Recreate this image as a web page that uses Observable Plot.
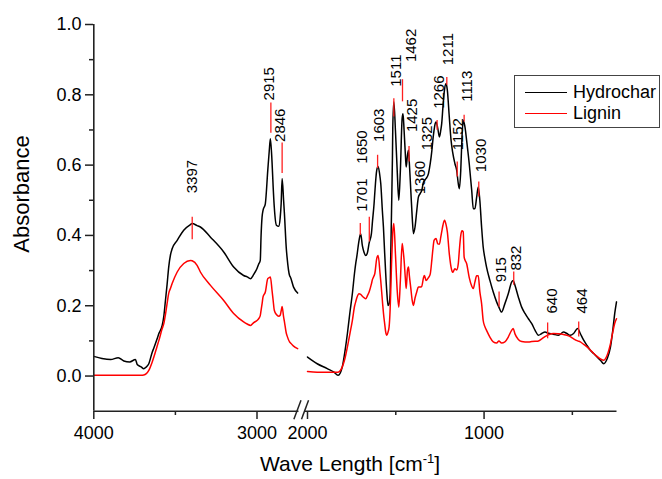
<!DOCTYPE html>
<html><head><meta charset="utf-8">
<script src="https://cdn.jsdelivr.net/npm/d3@7"></script>
<script src="https://cdn.jsdelivr.net/npm/@observablehq/plot@0.6"></script>
<style>
body{margin:0;background:#fff;}
#wrap{position:relative;width:662px;height:479px;overflow:hidden;font-family:"Liberation Sans",Arial,sans-serif;color:#000;}
#wrap svg{position:absolute;left:0;top:0;}
.ytitle{position:absolute;left:22px;top:194px;font-size:22px;line-height:22px;white-space:nowrap;transform:translate(-50%,-50%) rotate(-90deg);}
.xtitle{position:absolute;left:260px;top:453px;font-size:21px;line-height:21px;white-space:nowrap;}
.xtitle sup{font-size:13px;vertical-align:8px;line-height:0;}
.legend{position:absolute;left:514px;top:75px;width:146px;height:53px;border:1px solid #444;box-sizing:border-box;background:#fff;}
.legend .row{position:absolute;left:10px;height:20px;display:flex;align-items:center;font-size:18px;}
.legend .sw{width:42px;height:0;border-top:1.5px solid;margin-right:6px;}
</style></head><body><div id="wrap"></div>
<script>
// ---------------- data ----------------
const leftWn = [4000,3950,3897,3850,3816,3780,3745,3734,3710,3694,3680,3663,3642,3632,3612,3602,3581,3571,3561,3551,3541,3530,3520,3489,3449,3408,3397,3367,3347,3285,3204,3143,3082,3060,3040,3020,3000,2990,2980,2975,2969,2963,2949,2934,2925,2918,2908,2901,2894,2881,2867,2858,2852,2846,2837,2832,2820,2816,2800,2796,2776,2751];
const leftHydrochar = [0.056,0.050,0.047,0.052,0.043,0.040,0.047,0.033,0.026,0.021,0.025,0.035,0.068,0.080,0.106,0.120,0.144,0.170,0.215,0.260,0.310,0.345,0.362,0.386,0.415,0.431,0.434,0.428,0.424,0.395,0.353,0.310,0.286,0.282,0.277,0.289,0.306,0.318,0.329,0.400,0.452,0.471,0.490,0.585,0.640,0.675,0.610,0.538,0.480,0.429,0.426,0.450,0.490,0.562,0.500,0.462,0.360,0.339,0.285,0.282,0.253,0.236];
const leftLignin = [0.002,0.002,0.002,0.002,0.002,0.002,0.002,0.002,0.002,0.003,0.006,0.016,0.040,0.054,0.085,0.100,0.135,0.149,0.175,0.206,0.235,0.250,0.263,0.296,0.320,0.329,0.328,0.315,0.296,0.258,0.215,0.178,0.154,0.148,0.144,0.152,0.158,0.163,0.172,0.187,0.205,0.225,0.239,0.277,0.280,0.282,0.244,0.215,0.187,0.175,0.170,0.173,0.185,0.198,0.168,0.155,0.121,0.115,0.097,0.095,0.085,0.078];

const rightWn = [2000,1945,1888,1850,1827,1815,1803,1788,1774,1760,1746,1733,1727,1721,1708,1699,1689,1680,1670,1661,1651,1638,1632,1623,1619,1608,1600,1589,1585,1576,1570,1563,1557,1551,1544,1538,1532,1529,1524,1519,1517,1511,1502,1492,1483,1474,1464,1459,1453,1445,1441,1434,1428,1423,1415,1407,1400,1391,1381,1372,1362,1353,1343,1338,1328,1315,1305,1296,1290,1283,1277,1272,1262,1253,1245,1240,1233,1224,1215,1208,1197,1187,1178,1165,1155,1146,1140,1132,1125,1118,1113,1108,1099,1084,1070,1061,1052,1042,1033,1024,1014,1005,995,986,967,948,929,916,901,882,863,844,835,825,806,787,768,749,730,711,692,673,655,636,607,579,550,531,512,493,470,455,436,417,398,379,360,341,322,303,284,269,260,250];
const rightHydrochar = [0.054,0.035,0.021,0.011,0.002,0.008,0.026,0.070,0.121,0.180,0.234,0.296,0.320,0.339,0.386,0.405,0.370,0.352,0.343,0.350,0.378,0.405,0.440,0.490,0.520,0.585,0.596,0.565,0.547,0.470,0.424,0.350,0.291,0.240,0.201,0.205,0.234,0.330,0.471,0.620,0.708,0.780,0.699,0.585,0.500,0.585,0.733,0.746,0.699,0.623,0.595,0.628,0.642,0.604,0.528,0.452,0.405,0.424,0.471,0.509,0.519,0.528,0.552,0.556,0.562,0.576,0.604,0.640,0.671,0.700,0.718,0.723,0.704,0.680,0.700,0.718,0.765,0.815,0.832,0.813,0.737,0.671,0.637,0.604,0.585,0.547,0.533,0.585,0.680,0.727,0.720,0.708,0.671,0.604,0.528,0.476,0.476,0.509,0.538,0.500,0.424,0.367,0.334,0.310,0.272,0.239,0.211,0.196,0.182,0.206,0.234,0.267,0.272,0.258,0.225,0.196,0.178,0.163,0.149,0.130,0.116,0.121,0.125,0.122,0.119,0.116,0.125,0.121,0.116,0.121,0.135,0.121,0.102,0.087,0.073,0.064,0.054,0.045,0.035,0.049,0.083,0.139,0.178,0.211];
const rightLignin = [0.013,0.011,0.011,0.011,0.011,0.015,0.026,0.050,0.083,0.120,0.158,0.200,0.211,0.222,0.234,0.232,0.227,0.223,0.220,0.228,0.239,0.262,0.275,0.285,0.291,0.334,0.343,0.291,0.270,0.215,0.180,0.149,0.125,0.116,0.125,0.139,0.190,0.234,0.320,0.386,0.410,0.434,0.348,0.244,0.196,0.272,0.377,0.360,0.330,0.272,0.249,0.300,0.310,0.285,0.250,0.215,0.201,0.222,0.240,0.253,0.253,0.255,0.280,0.286,0.272,0.280,0.290,0.329,0.360,0.386,0.390,0.391,0.376,0.375,0.396,0.410,0.429,0.443,0.430,0.410,0.348,0.310,0.295,0.305,0.302,0.320,0.358,0.400,0.413,0.410,0.339,0.330,0.320,0.280,0.256,0.249,0.267,0.285,0.285,0.240,0.206,0.158,0.140,0.130,0.111,0.097,0.094,0.100,0.094,0.097,0.111,0.130,0.135,0.120,0.104,0.098,0.097,0.097,0.098,0.099,0.100,0.106,0.112,0.117,0.121,0.120,0.118,0.116,0.112,0.106,0.100,0.097,0.090,0.083,0.074,0.064,0.056,0.049,0.045,0.059,0.092,0.130,0.150,0.163];

// peak annotations
const peakWn     = [3397,2915,2846,1701,1650,1603,1511,1462,1425,1360,1325,1266,1211,1152,1113,1030,915,832,640,464];
const peakLabel  = ["3397","2915","2846","1701","1650","1603","1511","1462","1425","1360","1325","1266","1211","1152","1113","1030","915","832","640","464"];
const markerTop    = [0.452,0.777,0.663,0.434,0.452,0.628,0.789,0.843,0.653,null,null,0.727,0.849,0.609,0.742,0.552,0.239,0.296,0.151,0.154];
const markerBottom = [0.388,0.691,0.576,0.400,0.381,0.590,0.737,0.780,0.609,null,null,0.699,0.827,0.566,0.723,0.509,0.196,0.258,0.106,0.111];
const labelWn    = [3397,2928,2857,1689,1689,1594,1499,1414,1408,1360,1323,1253,1205,1148,1095,1019,902,816,617,446];
const labelBase  = [0.520,0.784,0.666,0.467,0.604,0.666,0.823,0.893,0.694,0.517,0.642,0.760,0.884,0.642,0.780,0.580,0.267,0.300,0.178,0.178];

// axes
const xMajorTicks = [4000,3000,2000,1000];
const xMinorTicks = [3500,1500,500];
const yMajorTicks = [0,0.2,0.4,0.6,0.8,1.0];
const yMinorTicks = [0.1,0.3,0.5,0.7,0.9];
const seriesNames = ["Hydrochar","Lignin"];
const seriesColors = ["#000000","#ff0000"];

// --------------- build tables ---------------
const left = leftWn.map((wn,i)=>({wn, h:leftHydrochar[i], l:leftLignin[i]}));
const right = rightWn.map((wn,i)=>({wn, h:rightHydrochar[i], l:rightLignin[i]}));
const peaks = peakWn.map((wn,i)=>({wn, label:peakLabel[i], top:markerTop[i], bottom:markerBottom[i], lx:labelWn[i], ly:labelBase[i]}));
const markers = peaks.filter(d=>d.top!=null);

const axisColor = "#222";
const font = "Liberation Sans, Arial, sans-serif";
const axisSegments = [{x1:4000,x2:2696},{x1:2232,x2:250}];
const slashes = [{x1:2774,x2:2503},{x1:2464,x2:1994}];

const chart = Plot.plot({
  width:662, height:479,
  marginLeft:93, marginRight:46, marginTop:24, marginBottom:68,
  style:{fontFamily:font, background:"white", color:"black", overflow:"visible"},
  x:{type:"linear", domain:[4000,2750,2000,250], range:[93.3,297.3,307,616]},
  y:{domain:[-0.1,1.0], range:[410.7,24]},
  marks:[
    Plot.line(left,{x:"wn",y:"h",stroke:seriesColors[0],strokeWidth:1.5,curve:"monotone-x"}),
    Plot.line(right,{x:"wn",y:"h",stroke:seriesColors[0],strokeWidth:1.5,curve:"monotone-x"}),
    Plot.line(left,{x:"wn",y:"l",stroke:seriesColors[1],strokeWidth:1.5,curve:"monotone-x"}),
    Plot.line(right,{x:"wn",y:"l",stroke:seriesColors[1],strokeWidth:1.5,curve:"monotone-x"}),
    Plot.ruleX(markers,{x:"wn",y1:"bottom",y2:"top",stroke:"#ff2020",strokeWidth:1.3}),
    Plot.text(peaks,{x:"lx",y:"ly",text:"label",rotate:-90,textAnchor:"start",fontSize:15,fill:"black"}),
    // axis lines
    Plot.ruleX([4000],{y1:-0.1,y2:1.0,stroke:axisColor,strokeWidth:1.6}),
    Plot.link(axisSegments,{x1:"x1",x2:"x2",y1:-0.1,y2:-0.1,stroke:axisColor,strokeWidth:1.6}),
    Plot.link(slashes,{x1:"x1",x2:"x2",y1:-0.123,y2:-0.069,stroke:axisColor,strokeWidth:1.5}),
    Plot.axisX({ticks:xMajorTicks,tickSize:8,tickPadding:7,fontSize:18,stroke:axisColor,strokeWidth:1.5,tickFormat:d=>String(d),fill:"black"}),
    Plot.axisX({ticks:xMinorTicks,tickSize:4,stroke:axisColor,strokeWidth:1.5,text:null}),
    Plot.axisY({ticks:yMajorTicks,tickSize:8,tickPadding:4,fontSize:18,stroke:axisColor,strokeWidth:1.5,tickFormat:d3.format(".1f"),fill:"black",label:null}),
    Plot.axisY({ticks:yMinorTicks,tickSize:4,stroke:axisColor,strokeWidth:1.5,text:null,label:null})
  ]
});
const wrap = document.getElementById("wrap");
wrap.appendChild(chart);

const yt = document.createElement("div"); yt.className="ytitle"; yt.textContent="Absorbance"; wrap.appendChild(yt);
const xt = document.createElement("div"); xt.className="xtitle"; xt.innerHTML="Wave Length [cm<sup>-1</sup>]"; wrap.appendChild(xt);

const lg = document.createElement("div"); lg.className="legend";
seriesNames.forEach((n,i)=>{
  const r=document.createElement("div"); r.className="row"; r.style.top=(i===0?6:27)+"px";
  const sw=document.createElement("span"); sw.className="sw"; sw.style.borderTopColor=seriesColors[i];
  const t=document.createElement("span"); t.textContent=n;
  r.appendChild(sw); r.appendChild(t); lg.appendChild(r);
});
wrap.appendChild(lg);
</script></body></html>
